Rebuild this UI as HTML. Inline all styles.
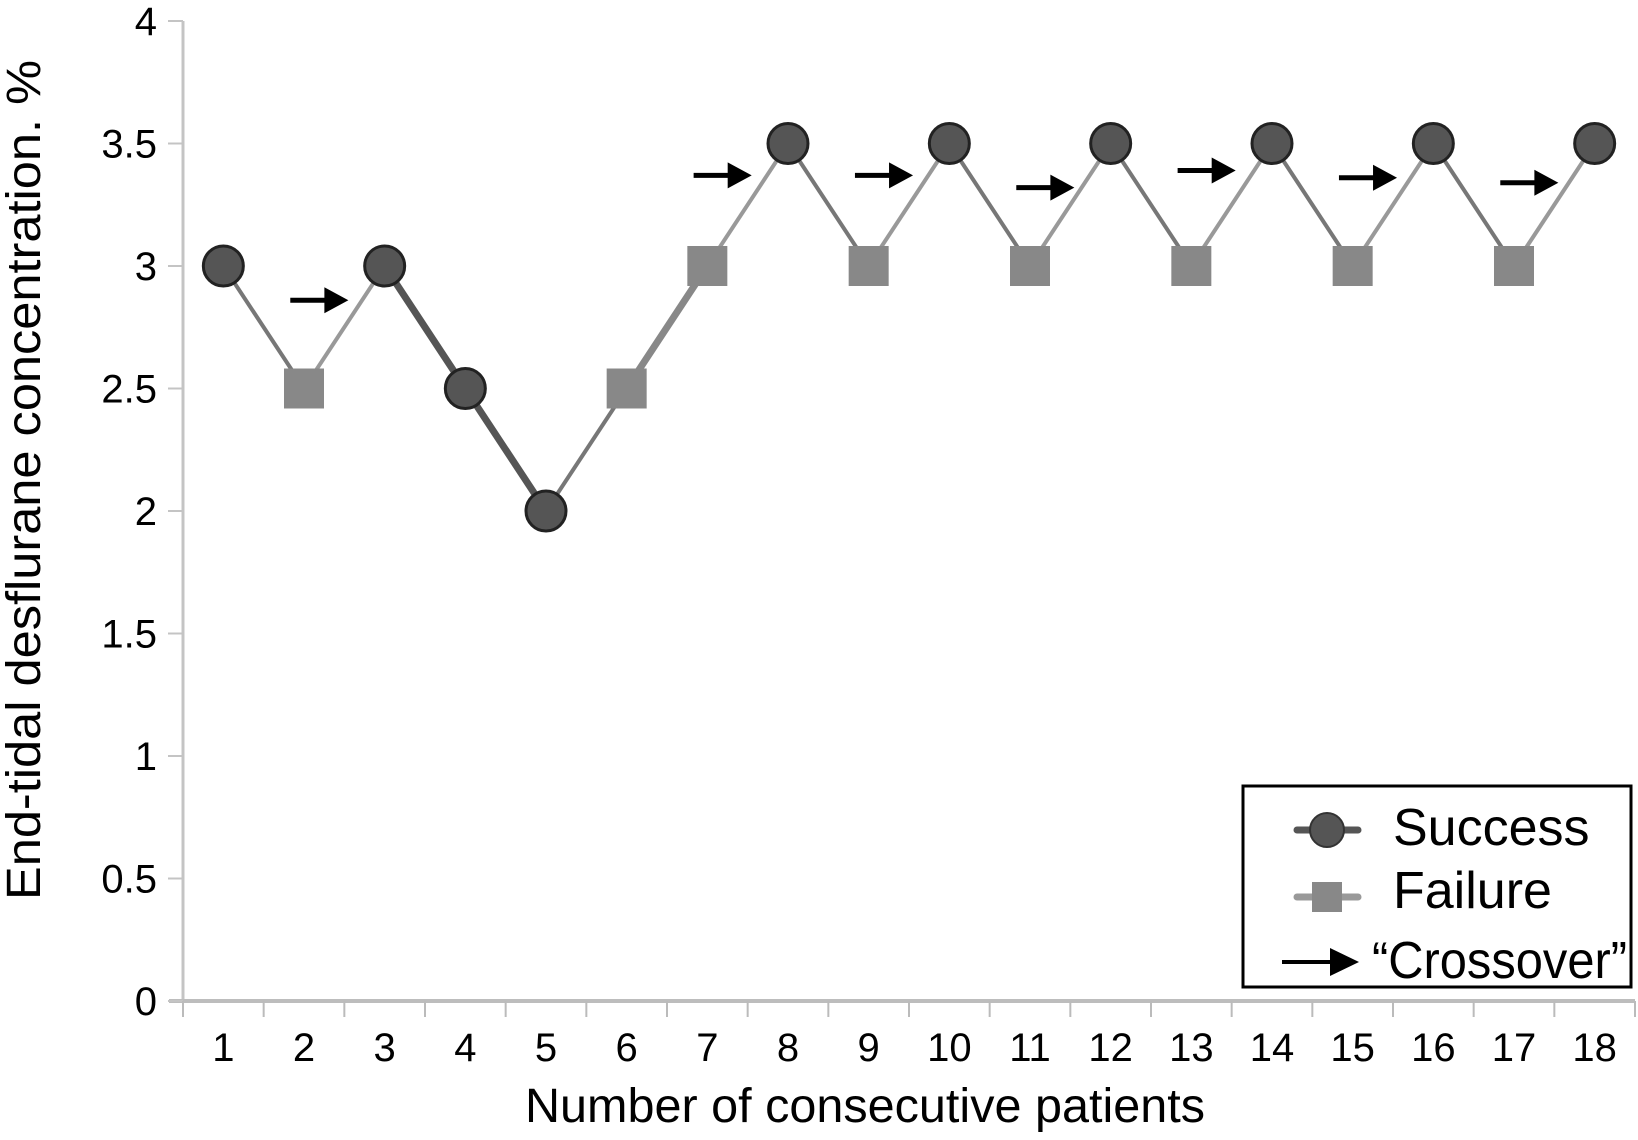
<!DOCTYPE html>
<html><head><meta charset="utf-8"><style>
html,body{margin:0;padding:0;background:#fff;}
svg{display:block;font-family:"Liberation Sans",sans-serif;}
</style></head><body>
<svg id="chart" width="1638" height="1140" viewBox="0 0 1638 1140">
  <g id="axes"></g>
  <g id="lines"></g>
  <g id="marks"></g>
  <g id="arrows"></g>
  <text x="40" y="480" font-size="48" text-anchor="middle" textLength="840" lengthAdjust="spacingAndGlyphs" transform="rotate(-90 40 480)">End-tidal desflurane concentration. %</text>
  <text x="865" y="1122" font-size="48" text-anchor="middle" textLength="680" lengthAdjust="spacingAndGlyphs">Number of consecutive patients</text>
  <g>
    <rect x="1243" y="786" width="388" height="201" fill="#fff" stroke="#000" stroke-width="3"/>
    <g>
      <line x1="1297" y1="830" x2="1358" y2="830" stroke="#555" stroke-width="7" stroke-linecap="round"/>
      <circle cx="1327" cy="830" r="17" fill="#555" stroke="#333" stroke-width="2"/>
      <text x="1393" y="845" font-size="52">Success</text>
    </g>
    <g>
      <line x1="1297" y1="897" x2="1358" y2="897" stroke="#999" stroke-width="7" stroke-linecap="round"/>
      <rect x="1312" y="882" width="30" height="30" fill="#888"/>
      <text x="1393" y="908" font-size="52">Failure</text>
    </g>
    <g>
      <line x1="1282" y1="962" x2="1335" y2="962" stroke="#000" stroke-width="4"/>
      <polygon points="1330,948 1359,962 1330,976" fill="#000"/>
      <text x="1372" y="978" font-size="52" textLength="255" lengthAdjust="spacingAndGlyphs">“Crossover”</text>
    </g>
  </g>
</svg>
<script>
const categories = [1,2,3,4,5,6,7,8,9,10,11,12,13,14,15,16,17,18];
const values = [3,2.5,3,2.5,2,2.5,3,3.5,3,3.5,3,3.5,3,3.5,3,3.5,3,3.5];
const outcomes = ["S","F","S","S","S","F","F","S","F","S","F","S","F","S","F","S","F","S"];
const yTicks = [0,0.5,1,1.5,2,2.5,3,3.5,4];
const yTickLabels = ["0","0.5","1","1.5","2","2.5","3","3.5","4"];
const arrowTargets = [3,8,10,12,14,16,18];
const arrowValues = [2.86,3.37,3.37,3.32,3.39,3.36,3.34];

const NS="http://www.w3.org/2000/svg";
const X0=183, X1=1635, Y0=1001, Y4=21;
const band=(X1-X0)/categories.length;
function xPos(i){return X0+band*(i+0.5);}
function yPos(v){return Y0-(v/4)*(Y0-Y4);}
function mk(tag,attrs,parent){const e=document.createElementNS(NS,tag);for(const k in attrs)e.setAttribute(k,attrs[k]);parent.appendChild(e);return e;}

const axes=document.getElementById('axes');
let yl=mk('line',{x1:X0,y1:Y4,x2:X0,y2:Y0,stroke:'#c4c4c4','stroke-width':3},axes);


let xl=mk('line',{x1:X0-14,y1:Y0,x2:X1,y2:Y0,stroke:'#bdbdbd','stroke-width':4},axes);


yTicks.forEach((t,i)=>{
  const y=yPos(t);
  mk('line',{x1:X0-15,y1:y,x2:X0,y2:y,stroke:'#c4c4c4','stroke-width':2},axes);
  const tx=mk('text',{x:157,y:y+14,'font-size':40,'text-anchor':'end'},axes);
  tx.textContent=yTickLabels[i];
  
  
});
for(let i=0;i<=categories.length;i++){
  const x=X0+band*i;
  mk('line',{x1:x,y1:Y0,x2:x,y2:Y0+16,stroke:'#bbb','stroke-width':2},axes);
}
categories.forEach((c,i)=>{
  const tx=mk('text',{x:xPos(i),y:1061,'font-size':40,'text-anchor':'middle'},axes);
  tx.textContent=c;
  
  
});

const lines=document.getElementById('lines');
for(let i=0;i<values.length-1;i++){
  const a=outcomes[i],b=outcomes[i+1];
  let col='#999',w=4;
  if(a==='S'&&b==='S'){col='#555';w=7;}
  else if(a==='F'&&b==='F'){col='#888';w=7;}
  else if(a==='S'&&b==='F'){col='#777';w=4;}
  const l=mk('line',{x1:xPos(i),y1:yPos(values[i]),x2:xPos(i+1),y2:yPos(values[i+1]),stroke:col,'stroke-width':w},lines);
  
  
}
const marks=document.getElementById('marks');
values.forEach((v,i)=>{
  const x=xPos(i),y=yPos(v);
  let m;
  if(outcomes[i]==='S'){
    m=mk('circle',{cx:x,cy:y,r:20,fill:'#555',stroke:'#222','stroke-width':3},marks);
    
  } else {
    m=mk('rect',{x:x-20,y:y-20,width:40,height:40,fill:'#888'},marks);
    
  }
  
});
const arrows=document.getElementById('arrows');
arrowTargets.forEach((t,i)=>{
  const xe=xPos(t-1)-band*0.45, xs=xe-band*0.72, y=yPos(arrowValues[i]);
  const g=mk('g',{},arrows);
  
  
  mk('line',{x1:xs,y1:y,x2:xe-20,y2:y,stroke:'#000','stroke-width':5},g);
  mk('polygon',{points:`${xe-24},${y-13} ${xe},${y} ${xe-24},${y+13}`,fill:'#000'},g);
});
</script>
</body></html>
